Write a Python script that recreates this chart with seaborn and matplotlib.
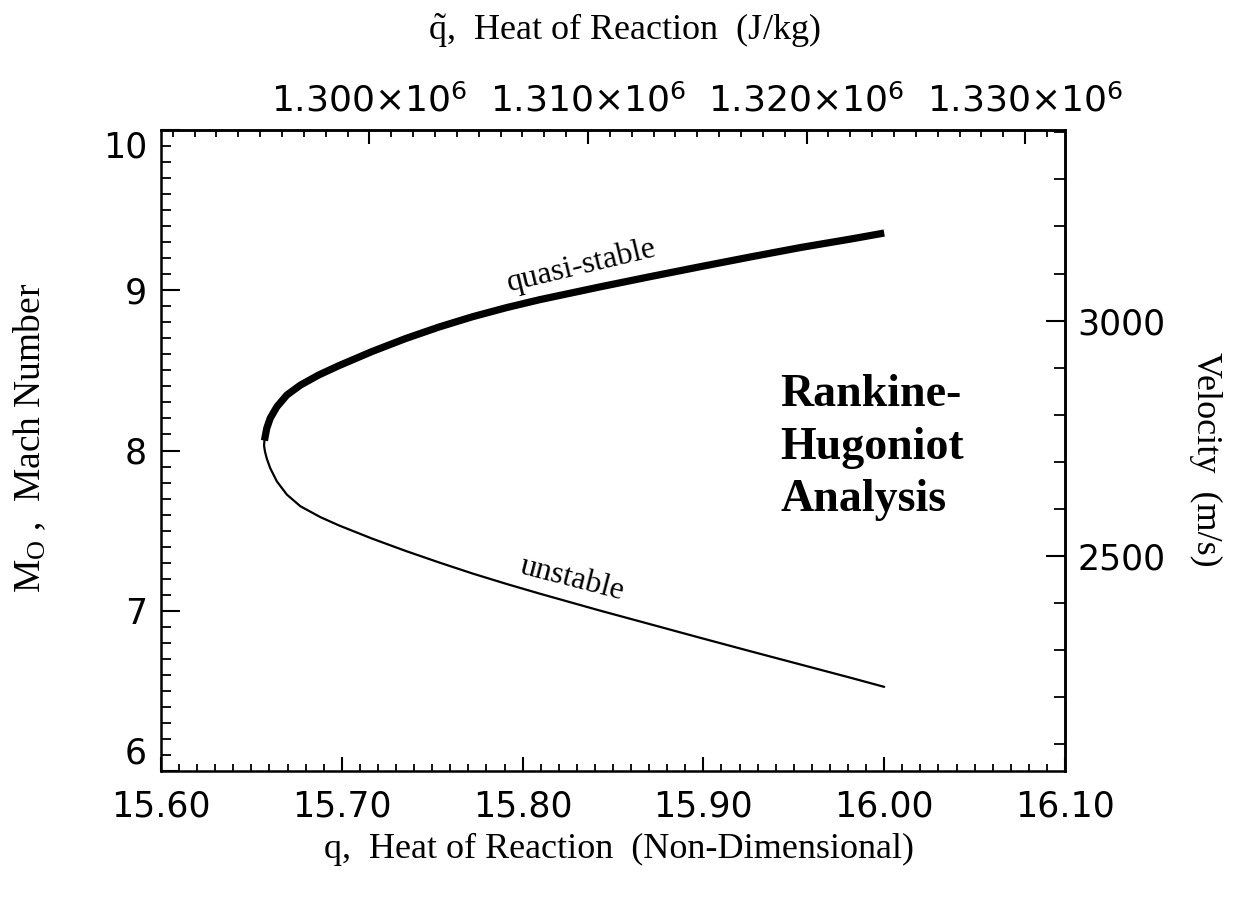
import numpy as np
import pandas as pd
import matplotlib
matplotlib.use("Agg")
import matplotlib.pyplot as plt
import seaborn as sns
from matplotlib.ticker import MultipleLocator, FixedLocator, FuncFormatter, FormatStrFormatter

# Rankine-Hugoniot solution: non-dimensional heat of reaction q vs. Mach number
# Upper (quasi-stable) branch
q_upper = [15.6572, 15.6585, 15.6604, 15.6641, 15.6696, 15.6771, 15.6872,
           15.6983, 15.7168, 15.7354, 15.7539, 15.7724, 15.7909, 15.8094,
           15.8428, 15.8706, 15.8983, 15.9261, 15.9539, 15.9817, 16.0000]
m_upper = [8.062, 8.139, 8.201, 8.273, 8.346, 8.408, 8.471,
           8.529, 8.618, 8.699, 8.771, 8.835, 8.891, 8.941,
           9.021, 9.085, 9.147, 9.208, 9.267, 9.320, 9.357]

# Lower (unstable) branch
q_lower = [15.6572, 15.6570, 15.6575, 15.6585, 15.6604, 15.6641, 15.6696,
           15.6771, 15.6882, 15.6983, 15.7168, 15.7354, 15.7539, 15.7724,
           15.7909, 15.8094, 15.8428, 15.8706, 15.8983, 15.9261, 15.9539,
           15.9817, 16.0000]
m_lower = [8.062, 8.031, 7.994, 7.950, 7.890, 7.807, 7.725,
           7.652, 7.584, 7.533, 7.450, 7.373, 7.301, 7.232,
           7.168, 7.107, 7.001, 6.916, 6.831, 6.747, 6.664,
           6.581, 6.525]

# Dimensional conversions
J_PER_KG = 82722.0        # J/kg per unit of non-dimensional q
SOUND_SPEED = 340.5       # m/s, converts Mach number to velocity

mach_ticks = [6, 7, 8, 9, 10]
top_ticks = [1.300e6, 1.310e6, 1.320e6, 1.330e6]
vel_ticks = [2500, 3000]

upper = pd.DataFrame({"q": q_upper, "M": m_upper})
lower = pd.DataFrame({"q": q_lower, "M": m_lower})

sns.set_theme(style="ticks")
plt.rcParams["font.family"] = ["DejaVu Sans"]
plt.rcParams["mathtext.fontset"] = "custom"
plt.rcParams["mathtext.rm"] = "Liberation Serif"
plt.rcParams["mathtext.it"] = "Liberation Serif:italic"
plt.rcParams["mathtext.sf"] = "DejaVu Sans"
for key in ["text.color", "axes.labelcolor", "xtick.color", "ytick.color",
            "axes.edgecolor"]:
    plt.rcParams[key] = "black"
plt.rcParams["axes.linewidth"] = 1.8

SERIF = "Liberation Serif"

fig = plt.figure(figsize=(12.37, 9.0), dpi=100)
ax = fig.add_axes([161 / 1237, 1 - 771 / 900, 904 / 1237, 641 / 900])

sns.lineplot(data=lower, x="q", y="M", sort=False, estimator=None,
             color="black", linewidth=1.6, ax=ax)
sns.lineplot(data=upper, x="q", y="M", sort=False, estimator=None,
             color="black", linewidth=5.2, ax=ax,
             solid_capstyle="butt")

ax.set_xlim(15.60, 16.10)
ax.set_ylim(6, 10)

# Bottom axis
ax.xaxis.set_major_locator(MultipleLocator(0.1))
ax.xaxis.set_minor_locator(MultipleLocator(0.01))
ax.xaxis.set_major_formatter(FormatStrFormatter("%.2f"))
ax.tick_params(axis="x", which="major", direction="in", length=10, width=1.5,
               labelsize=25, pad=13, top=False)
ax.tick_params(axis="x", which="minor", direction="in", length=5, width=1.3,
               top=False)

# Left axis
ax.yaxis.set_major_locator(FixedLocator(mach_ticks))
ax.yaxis.set_minor_locator(MultipleLocator(0.1))
ax.yaxis.set_major_formatter(FormatStrFormatter("%d"))
ax.tick_params(axis="y", which="major", direction="in", length=14, width=1.5,
               labelsize=25, pad=10, right=False)
ax.tick_params(axis="y", which="minor", direction="in", length=7, width=1.3,
               right=False)

ax.set_xlabel("q,  Heat of Reaction  (Non-Dimensional)", family=SERIF,
              fontsize=26, va="center", ha="center")
ax.xaxis.set_label_coords(0.507, -0.123)
ax.set_ylabel(r"M$_{\mathrm{O}}$ ,  Mach Number", family=SERIF, fontsize=27,
              va="center", ha="center", rotation=90)
ax.yaxis.set_label_coords(-0.145, 0.52)

for s in ax.spines.values():
    s.set_linewidth(1.8)
    s.set_color("black")

# Top axis: dimensional heat of reaction
secx = ax.secondary_xaxis("top", functions=(lambda q: q * J_PER_KG,
                                            lambda Q: Q / J_PER_KG))
secx.xaxis.set_major_locator(FixedLocator(top_ticks))
secx.xaxis.set_minor_locator(MultipleLocator(1000))
secx.xaxis.set_major_formatter(
    FuncFormatter(lambda v, p: "%.3f×10$^{\\mathsf{6}}$" % (v / 1e6)))
secx.tick_params(axis="x", which="major", direction="in", length=10,
                 width=1.5, labelsize=26, pad=8)
secx.tick_params(axis="x", which="minor", direction="in", length=5, width=1.3)
secx.set_xlabel(r"$\tilde{\mathrm{q}}$,  Heat of Reaction  (J/kg)",
                family=SERIF, fontsize=26, va="center", ha="center")
secx.xaxis.set_label_coords(0.513, 1.155, transform=ax.transAxes)
secx.spines["top"].set_linewidth(1.8)

# Right axis: velocity
secy = ax.secondary_yaxis("right", functions=(lambda m: m * SOUND_SPEED,
                                              lambda v: v / SOUND_SPEED))
secy.yaxis.set_major_locator(FixedLocator(vel_ticks))
secy.yaxis.set_minor_locator(MultipleLocator(100))
secy.yaxis.set_major_formatter(FormatStrFormatter("%d"))
secy.tick_params(axis="y", which="major", direction="in", length=14,
                 width=1.5, labelsize=25, pad=9)
secy.tick_params(axis="y", which="minor", direction="in", length=8, width=1.3)
secy.set_ylabel("Velocity  (m/s)", family=SERIF, fontsize=26, rotation=270,
                va="center", ha="center")
secy.yaxis.set_label_coords(1.155, 0.487, transform=ax.transAxes)
secy.spines["right"].set_linewidth(1.8)

# Curve annotations
ax.text(15.8329, 9.15, "quasi-stable", rotation=13.5, ha="center",
        va="center", fontsize=23, family=SERIF, rotation_mode="anchor")
ax.text(15.8273, 7.20, "unstable", rotation=-14.5, ha="center",
        va="center", fontsize=23, family=SERIF, rotation_mode="anchor")
for line, m in zip(["Rankine-", "Hugoniot", "Analysis"], [8.280, 7.950, 7.621]):
    ax.text(15.9424, m, line, ha="left", va="baseline", fontsize=33,
            fontweight="bold", family=SERIF)

# End tick labels of the Mach axis sit inside the axis span
yticks = ax.yaxis.get_major_ticks()
yticks[0].label1.set_va("bottom")
yticks[-1].label1.set_va("top")

fig.savefig("out.png", dpi=100, facecolor="white")
